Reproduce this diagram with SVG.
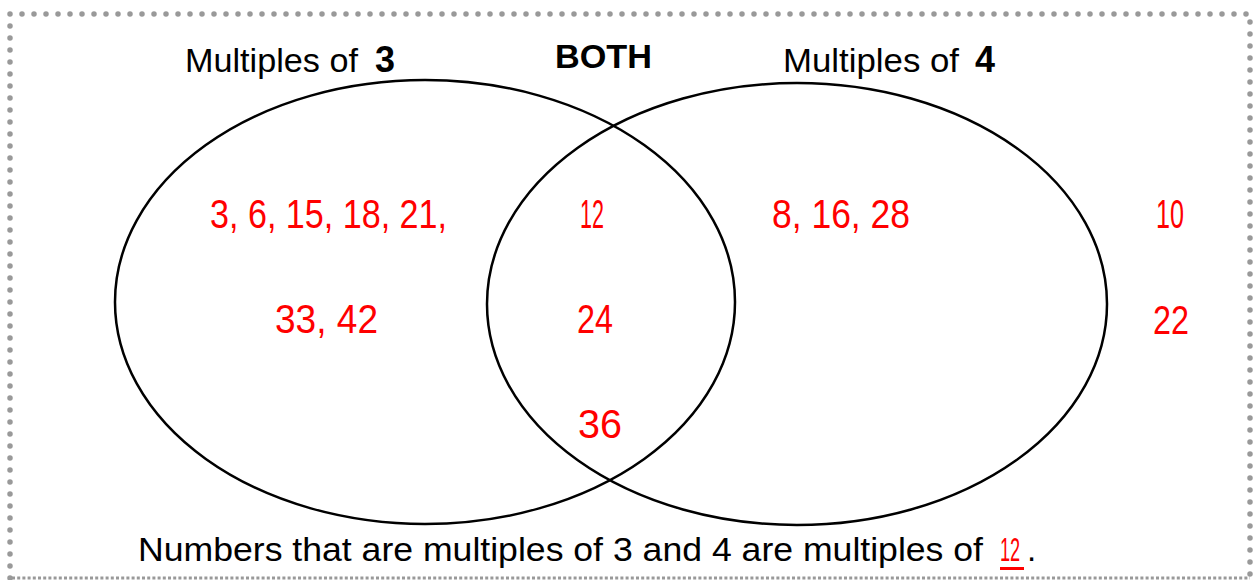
<svg xmlns="http://www.w3.org/2000/svg" width="1255" height="580" viewBox="0 0 1255 580">
<style>
.lbl{font-family:"Liberation Sans",Arial,sans-serif;font-size:33px;fill:#000}
.b{font-weight:bold}
.num{font-family:"Liberation Sans",Arial,sans-serif;font-size:40px;fill:#ff0000}
.circle{fill:none;stroke:#000;stroke-width:2.5}
.dots{fill:none;stroke:#999;stroke-width:5.5;stroke-linecap:round;stroke-dasharray:0 12}
</style>
<rect width="1255" height="580" fill="#fff"/>
<g id="border">
<path class="dots" d="M10 578 L10 14 L1250 14 L1250 578"/>
<path d="M12 578 L1250 578" fill="none" stroke="#999" stroke-width="3" stroke-dasharray="3 2.2"/>
</g>
<g id="set3">
<ellipse class="circle" cx="425" cy="302" rx="310" ry="222"/>
<text class="lbl" y="72"><tspan x="185" textLength="173" lengthAdjust="spacingAndGlyphs">Multiples of</tspan><tspan class="b" x="375" font-size="36" textLength="20" lengthAdjust="spacingAndGlyphs">3</tspan></text>
<text class="num" x="210" y="228" textLength="237" lengthAdjust="spacingAndGlyphs">3, 6, 15, 18, 21,</text>
<text class="num" x="275" y="333" textLength="103" lengthAdjust="spacingAndGlyphs">33, 42</text>
</g>
<g id="set4">
<ellipse class="circle" cx="797" cy="304" rx="310" ry="221"/>
<text class="lbl" y="72"><tspan x="783" textLength="176" lengthAdjust="spacingAndGlyphs">Multiples of</tspan><tspan class="b" x="975" font-size="36" textLength="20" lengthAdjust="spacingAndGlyphs">4</tspan></text>
<text class="num" x="772" y="228" textLength="138" lengthAdjust="spacingAndGlyphs">8, 16, 28</text>
</g>
<g id="both">
<text class="lbl b" x="555" y="68" font-size="39" textLength="97" lengthAdjust="spacingAndGlyphs">BOTH</text>
<text class="num" x="580" y="228" textLength="24" lengthAdjust="spacingAndGlyphs">12</text>
<text class="num" x="577" y="333" textLength="36" lengthAdjust="spacingAndGlyphs">24</text>
<text class="num" x="578" y="438" textLength="44" lengthAdjust="spacingAndGlyphs">36</text>
</g>
<g id="outside">
<text class="num" x="1156" y="228" textLength="28" lengthAdjust="spacingAndGlyphs">10</text>
<text class="num" x="1153" y="334" textLength="36" lengthAdjust="spacingAndGlyphs">22</text>
</g>
<g id="summary">
<text class="lbl" x="138" y="561" font-size="36" textLength="845" lengthAdjust="spacingAndGlyphs">Numbers that are multiples of 3 and 4 are multiples of</text>
<text class="lbl" transform="translate(1000 561) scale(0.55 1)" font-size="36" style="fill:#ff0000">12</text>
<text class="lbl" x="1027" y="561" font-size="36">.</text>
<line x1="1000" y1="568.5" x2="1024" y2="568.5" stroke="#ff0000" stroke-width="3"/>
</g>
</svg>
